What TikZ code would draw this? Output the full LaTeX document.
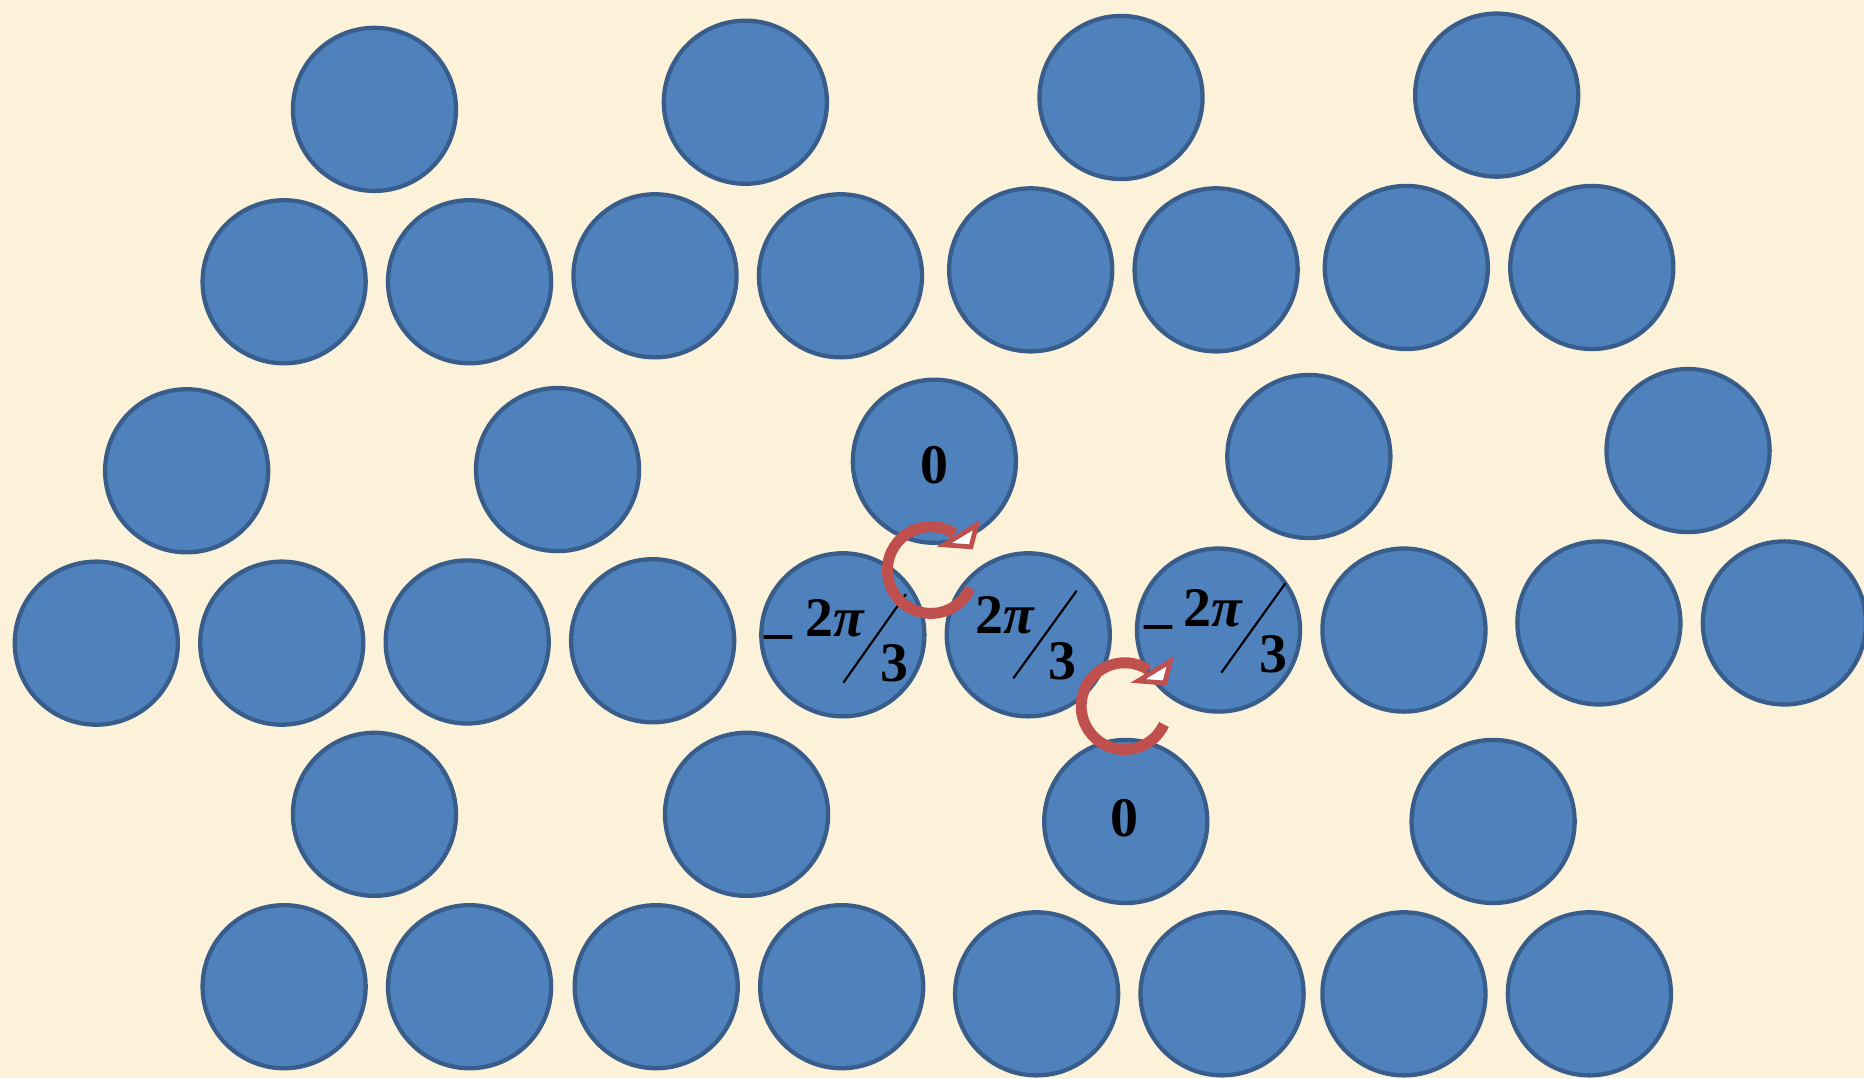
\documentclass[tikz,border=0pt]{standalone}
\usepackage{fontspec}
\setmainfont{Liberation Serif}
\usetikzlibrary{arrows.meta}
\definecolor{bgc}{RGB}{252,242,218}
\definecolor{ballfill}{RGB}{79,129,189}
\definecolor{balledge}{RGB}{56,93,138}
\definecolor{arcred}{RGB}{192,80,77}
\begin{document}
\begin{tikzpicture}[x=0.5pt,y=0.5pt,
  ball/.style={circle, draw=balledge, fill=ballfill, line width=1.8pt,
    minimum size=68.6pt, inner sep=0pt},
  lbl/.style={inner sep=0pt, font=\fontsize{23.5}{23.5}\selectfont\bfseries},
  slashline/.style={line width=0.9pt, black},
  rotarc/.style={draw=arcred, line width=4.6pt},
  rothead/.style={draw=arcred, fill=white, line width=2pt, line join=miter}]
\useasboundingbox (0,0) rectangle (1568,-907);
\fill[bgc] (0,0) rectangle (1568,-907);
\begin{scope}
\clip (0,0) rectangle (1568,-907);
% row 1
\node[ball] (r1a) at (315,-92) {};
\node[ball] (r1b) at (627,-86) {};
\node[ball] (r1c) at (943,-82) {};
\node[ball] (r1d) at (1259,-80) {};
% row 2
\node[ball] (r2a) at (239,-237) {};
\node[ball] (r2b) at (395,-237) {};
\node[ball] (r2c) at (551,-232) {};
\node[ball] (r2d) at (707,-232) {};
\node[ball] (r2e) at (867,-227) {};
\node[ball] (r2f) at (1023,-227) {};
\node[ball] (r2g) at (1183,-225) {};
\node[ball] (r2h) at (1339,-225) {};
% row 3
\node[ball] (r3a) at (157,-396) {};
\node[ball] (r3b) at (469,-395) {};
\node[ball] (r3c) at (786,-388) {};
\node[ball] (r3d) at (1101,-384) {};
\node[ball] (r3e) at (1420,-379) {};
% row 4
\node[ball] (r4a) at (81,-541) {};
\node[ball] (r4b) at (237,-541) {};
\node[ball] (r4c) at (393,-540) {};
\node[ball] (r4d) at (549,-539) {};
\node[ball] (r4e) at (709,-534) {};
\node[ball] (r4f) at (865,-534) {};
\node[ball] (r4g) at (1025,-530) {};
\node[ball] (r4h) at (1181,-530) {};
\node[ball] (r4i) at (1345,-524) {};
\node[ball] (r4j) at (1501,-524) {};
% row 5
\node[ball] (r5a) at (315,-685) {};
\node[ball] (r5b) at (628,-685) {};
\node[ball] (r5c) at (947,-691) {};
\node[ball] (r5d) at (1256,-691) {};
% row 6
\node[ball] (r6a) at (239,-830) {};
\node[ball] (r6b) at (395,-830) {};
\node[ball] (r6c) at (552,-830) {};
\node[ball] (r6d) at (708,-830) {};
\node[ball] (r6e) at (872,-836) {};
\node[ball] (r6f) at (1028,-836) {};
\node[ball] (r6g) at (1181,-836) {};
\node[ball] (r6h) at (1337,-836) {};
\end{scope}
% labels
\node[lbl, anchor=base] (z1) at (786,-407) {0};
\node[lbl, anchor=base] (z2) at (946,-704) {0};
% -2pi/3 (left)
\node[lbl, anchor=base west] (ma) at (643,-547) {–};
\node[lbl, anchor=base west] (na) at (677,-535.5) {2\textit{π}};
\node[lbl, anchor=base west] (da) at (740,-573.4) {3};
\coordinate (sa1) at (709.4,-574.3);
\coordinate (sa2) at (762.1,-499.7);
\draw[slashline] (sa1) -- (sa2);
% 2pi/3
\node[lbl, anchor=base west] (nb) at (820.5,-532.8) {2\textit{π}};
\node[lbl, anchor=base west] (db) at (882,-571.5) {3};
\coordinate (sb1) at (852.4,-570.6);
\coordinate (sb2) at (905.7,-496.9);
\draw[slashline] (sb1) -- (sb2);
% -2pi/3 (right)
\node[lbl, anchor=base west] (mc) at (962,-538.5) {–};
\node[lbl, anchor=base west] (nc) at (995.5,-527.1) {2\textit{π}};
\node[lbl, anchor=base west] (dc) at (1059,-565.5) {3};
\coordinate (sc1) at (1027.4,-565.8);
\coordinate (sc2) at (1081.2,-490.7);
\draw[slashline] (sc1) -- (sc2);
% rotation arrows
\coordinate (c1) at (783,-479.5);
\coordinate (c2) at (946,-594);
\foreach \c in {c1,c2}{
  \draw[rotarc] ([shift={(-25:36.5)}]\c) arc[start angle=-25, end angle=-303, radius=36.5];
  \draw[rothead] ([shift={(44.5:54)}]\c) -- ([shift={(30:39)}]\c) -- ([shift={(62:24)}]\c) -- cycle;
}
\end{tikzpicture}
\end{document}
